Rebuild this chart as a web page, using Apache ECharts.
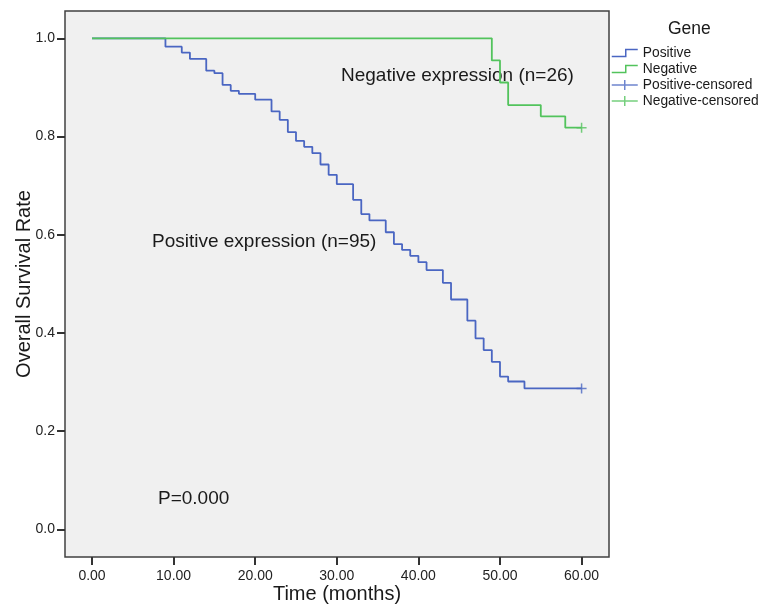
<!DOCTYPE html>
<html>
<head>
<meta charset="utf-8">
<script src="https://cdn.jsdelivr.net/npm/echarts@6/dist/echarts.min.js"></script>
<style>
html,body{margin:0;padding:0;background:#fff;}
#chart{width:761px;height:605px;}
</style>
</head>
<body>
<div id="chart"></div>
<script>
// ---- data ----
var positiveTime = [0, 9, 11, 12, 14, 15, 16, 17, 18, 20, 22, 23, 24, 25, 26, 27, 28, 29, 30, 32, 33, 34, 36, 37, 38, 39, 40, 41, 43, 44, 46, 47, 48, 49, 50, 51, 53, 60];
var positiveSurv = [1.0, 0.983, 0.971, 0.958, 0.934, 0.929, 0.905, 0.893, 0.887, 0.875, 0.851, 0.834, 0.809, 0.791, 0.779, 0.766, 0.743, 0.722, 0.703, 0.671, 0.642, 0.629, 0.605, 0.581, 0.569, 0.557, 0.544, 0.528, 0.502, 0.468, 0.425, 0.389, 0.365, 0.341, 0.311, 0.301, 0.287, 0.287];
var negativeTime = [0, 49, 50, 51, 55, 58, 60];
var negativeSurv = [1.0, 0.955, 0.910, 0.864, 0.841, 0.818, 0.818];
var positiveCensored = [[60, 0.287]];
var negativeCensored = [[60, 0.818]];
var xTicks = [0, 10, 20, 30, 40, 50, 60];
var yTicks = [0, 0.2, 0.4, 0.6, 0.8, 1.0];
var seriesNames = ['Positive', 'Negative', 'Positive-censored', 'Negative-censored'];
var legendTitle = 'Gene';
var annotations = ['Negative expression (n=26)', 'Positive expression (n=95)', 'P=0.000'];

function zip(a, b) { return a.map(function (v, i) { return [v, b[i]]; }); }

var BLUE = '#4a66c2';
var GREEN = '#52c35c';
var FONT = '"Liberation Sans", Arial, Helvetica, sans-serif';
var crossPath = 'path://M0,5 L10,5 M5,0 L5,10';
var stepIcon = 'path://M0,7 L14,7 L14,0 L26,0';
var crossIcon = 'path://M0,5 L26,5 M13,0 L13,10';

var chart = echarts.init(document.getElementById('chart'));
chart.setOption({
  animation: false,
  backgroundColor: '#ffffff',
  textStyle: { fontFamily: FONT },
  grid: {
    left: 65, right: 152, top: 11, bottom: 48,
    outerBoundsMode: 'none', containLabel: false,
    show: true, backgroundColor: '#f0f0f0', borderColor: '#404040', borderWidth: 1.5
  },
  xAxis: {
    type: 'value', min: -3.31, max: 63.36,
    name: 'Time (months)', nameLocation: 'middle', nameGap: 27, nameMoveOverlap: false,
    nameTextStyle: { fontSize: 20, color: '#1a1a1a', fontFamily: FONT },
    axisLine: { show: false, onZero: false },
    splitLine: { show: false },
    axisTick: { show: true, customValues: xTicks, length: 8, lineStyle: { color: '#333', width: 2 } },
    axisLabel: { customValues: xTicks, formatter: function (v) { return v.toFixed(2); }, fontSize: 14, color: '#222', margin: 12, fontFamily: FONT }
  },
  yAxis: {
    type: 'value', min: -0.0564, max: 1.0556,
    name: 'Overall Survival Rate', nameLocation: 'middle', nameGap: 31, nameMoveOverlap: false,
    nameTextStyle: { fontSize: 20, color: '#1a1a1a', fontFamily: FONT },
    axisLine: { show: false, onZero: false },
    splitLine: { show: false },
    axisTick: { show: true, customValues: yTicks, length: 8, lineStyle: { color: '#333', width: 2 } },
    axisLabel: { customValues: yTicks, formatter: function (v) { return v.toFixed(1); }, fontSize: 14, color: '#222', margin: 10, fontFamily: FONT }
  },
  legend: {
    orient: 'vertical', left: 611, top: 46, padding: 0,
    itemWidth: 26, itemHeight: 10, itemGap: 2,
    textStyle: { fontSize: 13.8, color: '#1a1a1a', fontFamily: FONT },
    selectedMode: false,
    data: [
      { name: seriesNames[0], icon: stepIcon, itemStyle: { color: 'transparent', borderColor: BLUE, borderWidth: 1.5 } },
      { name: seriesNames[1], icon: stepIcon, itemStyle: { color: 'transparent', borderColor: GREEN, borderWidth: 1.5 } },
      { name: seriesNames[2], icon: crossIcon, itemStyle: { color: 'transparent', borderColor: BLUE, borderWidth: 1.5 } },
      { name: seriesNames[3], icon: crossIcon, itemStyle: { color: 'transparent', borderColor: GREEN, borderWidth: 1.5 } }
    ]
  },
  graphic: [
    { type: 'text', left: 668, top: 20, style: { text: legendTitle, fill: '#1a1a1a', font: '17.5px ' + FONT } },
    { type: 'text', left: 341, top: 66, style: { text: annotations[0], fill: '#1a1a1a', font: '19px ' + FONT } },
    { type: 'text', left: 152, top: 232, style: { text: annotations[1], fill: '#1a1a1a', font: '19px ' + FONT } },
    { type: 'text', left: 158, top: 489, style: { text: annotations[2], fill: '#1a1a1a', font: '19px ' + FONT } }
  ],
  series: [
    { name: seriesNames[0], type: 'line', step: 'end', showSymbol: false, data: zip(positiveTime, positiveSurv),
      lineStyle: { color: BLUE, width: 1.8 }, itemStyle: { color: BLUE }, z: 2 },
    { name: seriesNames[1], type: 'line', step: 'end', showSymbol: false, data: zip(negativeTime, negativeSurv),
      lineStyle: { color: GREEN, width: 1.8 }, itemStyle: { color: GREEN }, z: 3 },
    { name: seriesNames[2], type: 'scatter', symbol: crossPath, symbolSize: 10, data: positiveCensored,
      itemStyle: { color: 'transparent', borderColor: BLUE, borderWidth: 1.5 }, z: 4 },
    { name: seriesNames[3], type: 'scatter', symbol: crossPath, symbolSize: 10, data: negativeCensored,
      itemStyle: { color: 'transparent', borderColor: GREEN, borderWidth: 1.5 }, z: 4 }
  ]
});
</script>
</body>
</html>
